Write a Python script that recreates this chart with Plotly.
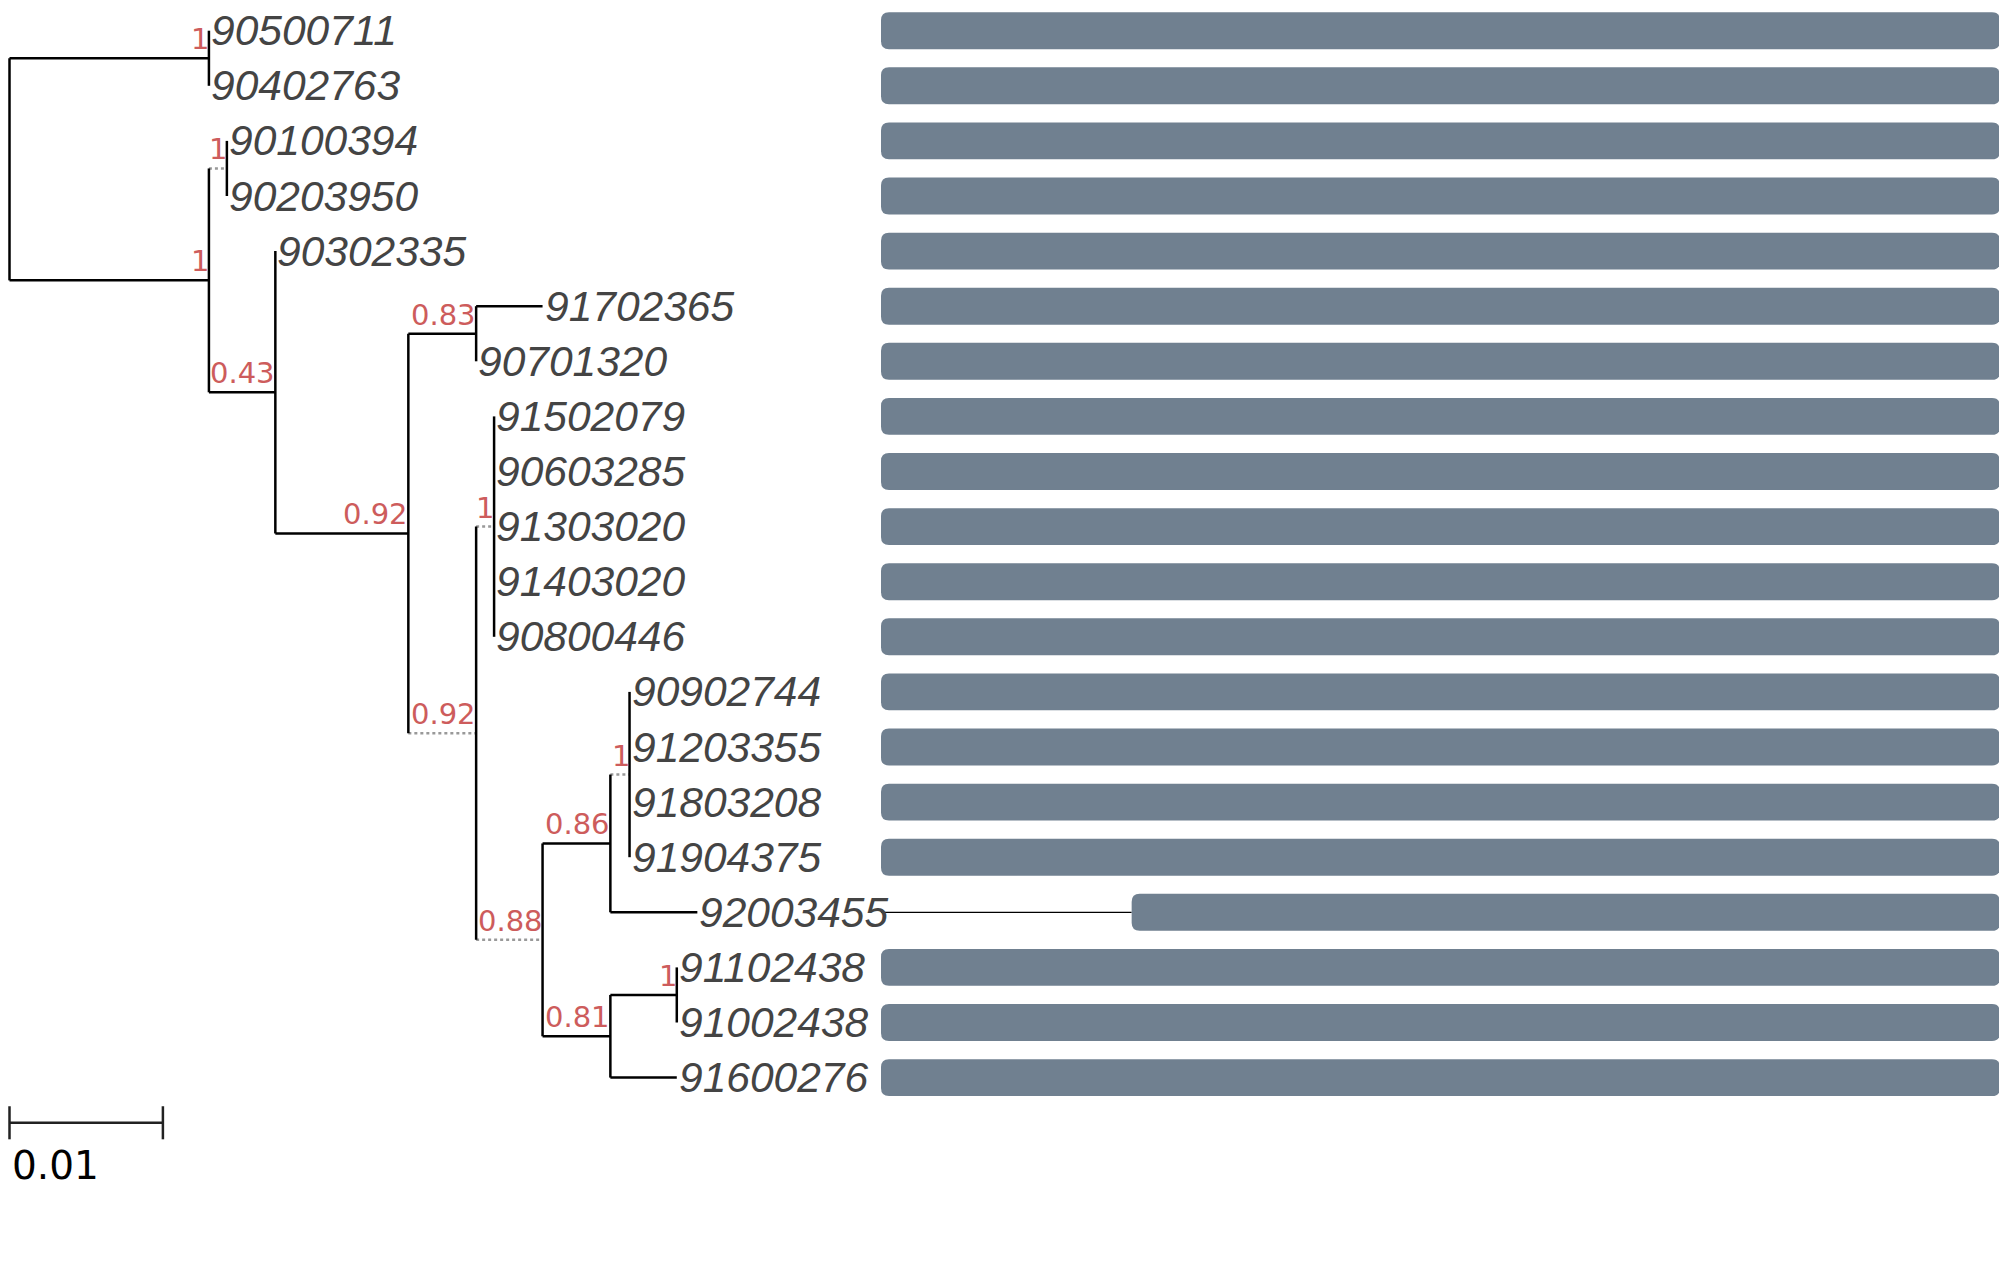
import plotly.graph_objects as go

# leaves, top to bottom
leaf_names = ["90500711", "90402763", "90100394", "90203950", "90302335",
              "91702365", "90701320", "91502079", "90603285", "91303020",
              "91403020", "90800446", "90902744", "91203355", "91803208",
              "91904375", "92003455", "91102438", "91002438", "91600276"]
leaf_parent = ["n1", "n1", "n3", "n3", "n4", "n6", "n6", "n8", "n8", "n8",
               "n8", "n8", "n11", "n11", "n11", "n11", "n10", "n13", "n13", "n12"]
leaf_length = [0, 0, 0, 0, 0, 0.00433, 0, 0, 0, 0,
               0, 0, 0, 0, 0, 0, 0.00567, 0, 0, 0.00433]

# internal nodes
node_names = ["root", "n1", "n2", "n3", "n4", "n5", "n6", "n7",
              "n8", "n9", "n10", "n11", "n12", "n13"]
node_parent = [None, "root", "root", "n2", "n2", "n4", "n5", "n5",
               "n7", "n7", "n9", "n10", "n9", "n12"]
node_length = [0, 0.0130, 0.0130, 0.00117, 0.00433, 0.00867, 0.00442, 0.00442,
               0.00117, 0.00433, 0.00442, 0.00125, 0.00442, 0.00433]
node_support = [None, 1, 1, 1, 0.43, 0.92, 0.83, 0.92,
                1, 0.88, 0.86, 1, 0.81, 1]
dotted_nodes = ["n3", "n7", "n8", "n9", "n11"]

# bars on the right panel
bar_start = [0, 0, 0, 0, 0, 0, 0, 0, 0, 0,
             0, 0, 0, 0, 0, 0, 224, 0, 0, 0]
bar_end = [1000] * 20

scale_length = 0.01
scale_label = "0.01"

# ---- tree layout ----
parent = {}
length = {}
for n, p, l in zip(leaf_names, leaf_parent, leaf_length):
    parent[n] = p
    length[n] = l
for n, p, l in zip(node_names, node_parent, node_length):
    parent[n] = p
    length[n] = l

children = {n: [] for n in node_names}
for n in leaf_names + node_names:
    if parent[n] is not None:
        children[parent[n]].append(n)

xpos = {}
def get_x(n):
    if n not in xpos:
        xpos[n] = 0 if parent[n] is None else get_x(parent[n]) + length[n]
    return xpos[n]

ypos = {n: i for i, n in enumerate(leaf_names)}
def get_y(n):
    if n not in ypos:
        ys = [get_y(c) for c in children[n]]
        ypos[n] = (min(ys) + max(ys)) / 2
    return ypos[n]

for n in leaf_names + node_names:
    get_x(n)
    get_y(n)

solid_x, solid_y, dot_x, dot_y = [], [], [], []
for n in leaf_names + node_names:
    p = parent[n]
    if p is not None and length[n] > 0:
        if n in dotted_nodes:
            dot_x += [xpos[p], xpos[n], None]
            dot_y += [ypos[n], ypos[n], None]
        else:
            solid_x += [xpos[p], xpos[n], None]
            solid_y += [ypos[n], ypos[n], None]
for n in node_names:
    ys = [ypos[c] for c in children[n]]
    solid_x += [xpos[n], xpos[n], None]
    solid_y += [min(ys), max(ys), None]

W, H = 1999, 1245
PX_PER_UNIT = 15340          # tree: pixels per substitution unit
ROW_PX = 55.1                # pixels per leaf row
ROW0 = 22.7                  # pixel y of the first row
BAR_LEFT, BAR_RIGHT = 873, 1992
bar_dom = [BAR_LEFT / W, 1]
bar_px = (BAR_RIGHT - BAR_LEFT) / (max(bar_end) - 0)
bar_range = [0, (W - BAR_LEFT) / bar_px]

fig = go.Figure()

fig.add_trace(go.Scatter(x=dot_x, y=dot_y, mode="lines",
                         line=dict(color="#999999", width=2.5, dash="dot"),
                         hoverinfo="skip"))
fig.add_trace(go.Scatter(x=solid_x, y=solid_y, mode="lines",
                         line=dict(color="black", width=2.5),
                         hoverinfo="skip"))

for n in leaf_names:
    fig.add_annotation(x=xpos[n], y=ypos[n], text=n, showarrow=False,
                       xanchor="left", yanchor="middle", xshift=0, yshift=0,
                       font=dict(family="Liberation Sans", size=42.5,
                                 color="#444444", style="italic"))

for n, s in zip(node_names, node_support):
    if s is None:
        continue
    fig.add_annotation(x=xpos[n], y=ypos[n], text=f"{s:g}", showarrow=False,
                       xanchor="right", yanchor="bottom", xshift=2, yshift=0,
                       font=dict(family="DejaVu Sans", size=29, color="indianred"))

# scale bar
sy = 19.82
fig.add_trace(go.Scatter(
    x=[0, scale_length, None, 0, 0, None, scale_length, scale_length],
    y=[sy, sy, None, sy - 0.3, sy + 0.3, None, sy - 0.3, sy + 0.3],
    mode="lines", line=dict(color="#222222", width=2.5), hoverinfo="skip"))
fig.add_annotation(x=0, y=sy + 0.42, text=scale_label, showarrow=False,
                   xanchor="left", yanchor="top", xshift=0, yshift=5,
                   font=dict(family="DejaVu Sans", size=39, color="black"))

# leader line from label to a bar that starts late
lx, ly = [], []
for i, a in enumerate(bar_start):
    if a > 0:
        lx += [0, a, None]
        ly += [i, i, None]
fig.add_trace(go.Scatter(x=lx, y=ly, mode="lines", line=dict(color="black", width=1.2),
                         xaxis="x2", yaxis="y", hoverinfo="skip"))
# invisible anchor so the bar axis exists
fig.add_trace(go.Scatter(x=[0, max(bar_end)], y=[0, 0], mode="markers",
                         marker=dict(opacity=0), xaxis="x2", yaxis="y",
                         hoverinfo="skip"))

# rounded bars as axis-referenced paths
bar_h = 0.67
rx = 8 / bar_px
ry = 8 / ROW_PX
for i, (a, b) in enumerate(zip(bar_start, bar_end)):
    y0, y1 = i - bar_h / 2, i + bar_h / 2
    path = (f"M {a + rx},{y0} L {b - rx},{y0} Q {b},{y0} {b},{y0 + ry} "
            f"L {b},{y1 - ry} Q {b},{y1} {b - rx},{y1} L {a + rx},{y1} "
            f"Q {a},{y1} {a},{y1 - ry} L {a},{y0 + ry} Q {a},{y0} {a + rx},{y0} Z")
    fig.add_shape(type="path", path=path, xref="x2", yref="y",
                  fillcolor="#708090", line=dict(width=0), layer="above")

fig.update_layout(
    width=W, height=H,
    margin=dict(l=0, r=0, t=0, b=0),
    paper_bgcolor="white", plot_bgcolor="white",
    showlegend=False,
    xaxis=dict(domain=[0, 1], range=[-1.5 / PX_PER_UNIT, (W - 1.5) / PX_PER_UNIT],
               visible=False),
    xaxis2=dict(domain=bar_dom, range=bar_range, anchor="y", visible=False),
    yaxis=dict(range=[(H - ROW0) / ROW_PX, -ROW0 / ROW_PX], visible=False),
)

fig.write_html("out.html")
